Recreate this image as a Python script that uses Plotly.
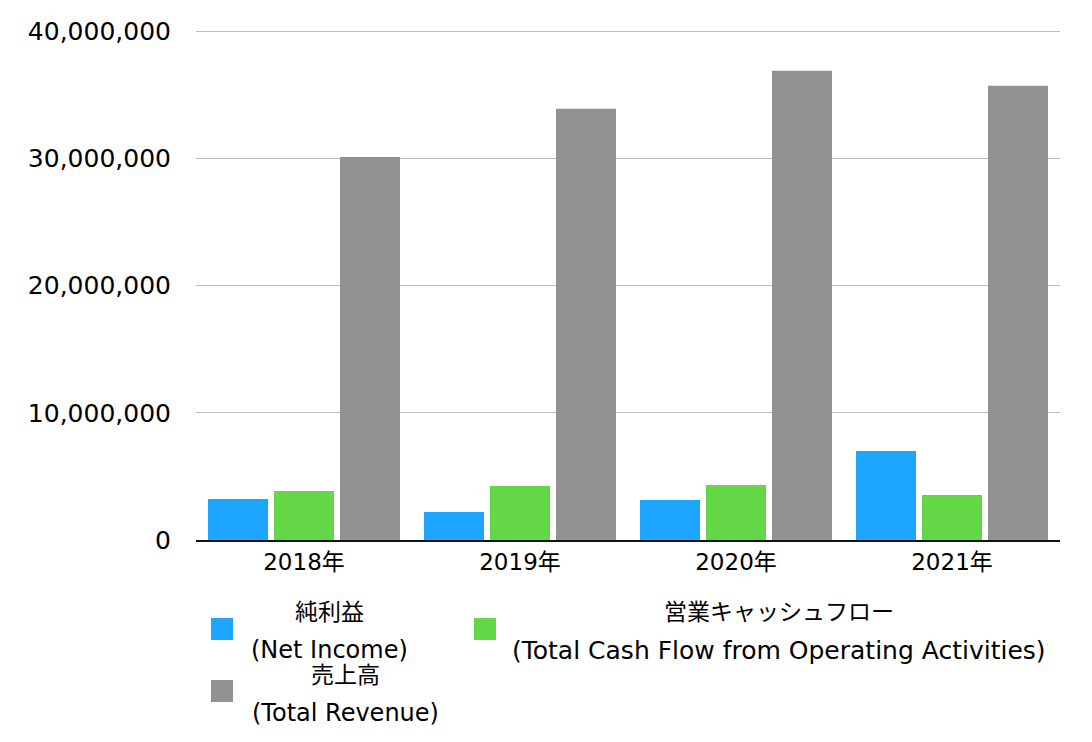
import plotly.graph_objects as go

# ---- data ----
categories = ["2018年", "2019年", "2020年", "2021年"]
net_income = [3220000, 2200000, 3140000, 7000000]
cash_flow = [3850000, 4250000, 4320000, 3540000]
revenue = [30100000, 33900000, 36870000, 35700000]

names_ja = ["純利益", "営業キャッシュフロー", "売上高"]
names_en = ["(Net Income)", "(Total Cash Flow from Operating Activities)", "(Total Revenue)"]
colors = ["#1EA5FF", "#63D745", "#929292"]

y_tickvals = [0, 10000000, 20000000, 30000000, 40000000]

FONT = "DejaVu Sans, Noto Sans CJK JP, sans-serif"

W, H = 1092, 742
L, R, T, B = 196, 32, 30, 202
PW, PH = W - L - R, H - T - B


def px_x(x):
    return (x - L) / PW


def px_y(y):
    return (H - B - y) / PH


fig = go.Figure()
for vals, ja, en, c in zip([net_income, cash_flow, revenue], names_ja, names_en, colors):
    fig.add_trace(go.Bar(x=categories, y=vals, name=f"{ja} {en}", marker_color=c,
                         marker_line_width=0, showlegend=False))

fig.update_layout(
    width=W, height=H,
    margin=dict(l=L, r=R, t=T, b=B),
    paper_bgcolor="white", plot_bgcolor="white",
    barmode="group", bargap=0.0833, bargroupgap=0.0909,
    font=dict(family=FONT, size=24, color="#000000"),
    xaxis=dict(showgrid=False, showline=True, linecolor="#111111", linewidth=2,
               ticks="", tickfont=dict(size=23), zeroline=False),
    yaxis=dict(range=[0, 40080000], tickvals=y_tickvals, tickformat=",",
               showgrid=True, gridcolor="#BDBDBD", gridwidth=1, zeroline=False,
               showline=False, ticks="", ticklabelstandoff=24,
               tickfont=dict(size=25)),
)

# ---- manual legend (two-line labels, centred) ----
legend_items = [
    # swatch left x, swatch top y, text centre x, line1 y, line2 y
    (211, 618, 329, 612, 650),
    (474, 618, 779, 612, 650),
    (211, 680, 345, 675, 713),
]
en_sizes = [24, 25, 24]
for (sx, sy, cx, y1, y2), ja, en, c, fs in zip(legend_items, names_ja, names_en, colors, en_sizes):
    fig.add_shape(type="rect", xref="paper", yref="paper",
                  x0=px_x(sx), x1=px_x(sx + 22), y0=px_y(sy), y1=px_y(sy + 22),
                  fillcolor=c, line_width=0)
    fig.add_annotation(text=ja, xref="paper", yref="paper", x=px_x(cx), y=px_y(y1),
                       xanchor="center", yanchor="middle", showarrow=False,
                       font=dict(size=23))
    fig.add_annotation(text=en, xref="paper", yref="paper", x=px_x(cx), y=px_y(y2),
                       xanchor="center", yanchor="middle", showarrow=False,
                       font=dict(size=fs))

fig.write_html("out.html")
